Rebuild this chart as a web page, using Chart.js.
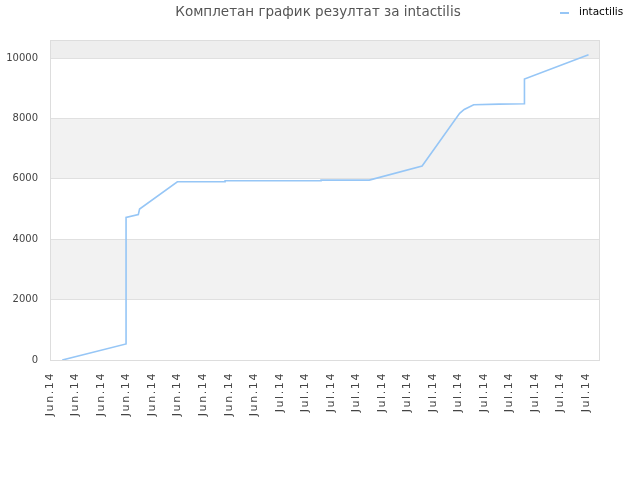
<!DOCTYPE html>
<html>
<head>
<meta charset="utf-8">
<script src="https://cdn.jsdelivr.net/npm/chart.js@4/dist/chart.umd.min.js"></script>
<style>
  body { margin: 0; background: #fff; }
  #chart { display: block; }
</style>
</head>
<body>
<canvas id="chart" width="640" height="480"></canvas>
<script>
// Tick labels along the x axis (one per position 0..21)
const xLabels = [
    'Jun.14', 'Jun.14', 'Jun.14', 'Jun.14', 'Jun.14', 'Jun.14', 'Jun.14', 'Jun.14', 'Jun.14',
    'Jul.14', 'Jul.14', 'Jul.14', 'Jul.14', 'Jul.14', 'Jul.14', 'Jul.14', 'Jul.14',
    'Jul.14', 'Jul.14', 'Jul.14', 'Jul.14', 'Jul.14'
];
const yTicks = [0, 2000, 4000, 6000, 8000, 10000];

// Series, x in tick units, y = result
const resultX = [0.48, 2.98, 2.98, 3.46, 3.51, 4.99, 6.86, 6.86, 10.62, 10.62, 12.51, 14.58, 16.05, 16.23, 16.6, 17.6, 18.59, 18.59, 21.1];
const resultY = [0, 530, 4725, 4820, 5000, 5905, 5905, 5940, 5940, 5960, 5960, 6424, 8170, 8300, 8454, 8477, 8487, 9305, 10109];

const seriesName = 'intactilis';
const chartTitle = 'Комплетан график резултат за intactilis';

const FONT = 'DejaVu Sans';
const LINE_COLOR = '#96c6f6';

// Alternating background bands, plot frame, title and legend
const decorPlugin = {
    id: 'decor',
    afterLayout(chart) {
        // the x labels in the original are a bit spaced out
        const xs = chart.scales.x;
        if (!xs._spaced) {
            const orig = xs.drawLabels;
            xs.drawLabels = function (area) {
                const ctx = this.ctx;
                ctx.save();
                ctx.letterSpacing = '1.6px';
                orig.call(this, area);
                ctx.restore();
            };
            xs._spaced = true;
        }
    },
    beforeDraw(chart) {
        const { ctx, chartArea: a, scales: { y } } = chart;
        const edges = yTicks.concat([y.max]);
        ctx.save();
        for (let i = 1; i < edges.length - 1; i += 2) {
            const top = y.getPixelForValue(edges[i + 1]);
            const bottom = y.getPixelForValue(edges[i]);
            ctx.fillStyle = i === edges.length - 2 ? '#eeeeee' : '#f2f2f2';
            ctx.fillRect(a.left, top, a.right - a.left, bottom - top);
        }
        ctx.restore();
    },
    afterDraw(chart) {
        const { ctx, chartArea: a } = chart;
        ctx.save();
        ctx.strokeStyle = '#dddddd';
        ctx.lineWidth = 1;
        ctx.strokeRect(a.left + 0.5, a.top + 0.5, a.right - a.left - 1, a.bottom - a.top);

        ctx.fillStyle = '#555555';
        ctx.font = '13.5px ' + FONT;
        ctx.textAlign = 'center';
        ctx.textBaseline = 'middle';
        ctx.fillText(chartTitle, 318, 12);

        // legend
        ctx.fillStyle = LINE_COLOR;
        ctx.fillRect(560, 12, 9, 2);
        ctx.fillStyle = '#000';
        ctx.font = '10.5px ' + FONT;
        ctx.textAlign = 'left';
        ctx.fillText(seriesName, 579, 12);
        ctx.restore();
    }
};

const points = resultX.map((x, i) => ({ x: x, y: resultY[i] }));

new Chart(document.getElementById('chart'), {
    type: 'line',
    data: {
        datasets: [{
            label: seriesName,
            data: points,
            borderColor: LINE_COLOR,
            borderWidth: 1.6,
            pointRadius: 0,
            tension: 0
        }]
    },
    plugins: [decorPlugin],
    options: {
        responsive: false,
        devicePixelRatio: 1,
        animation: false,
        layout: { padding: { left: 0, right: 40, top: 40, bottom: 0 } },
        plugins: {
            legend: { display: false },
            tooltip: { enabled: false }
        },
        scales: {
            x: {
                type: 'linear',
                min: 0,
                max: 21.55,
                grid: { display: false, drawTicks: false },
                border: { display: false },
                afterBuildTicks: (scale) => {
                    scale.ticks = xLabels.map((_, i) => ({ value: i }));
                },
                afterFit: (scale) => { scale.height = 120; },
                ticks: {
                    autoSkip: false,
                    minRotation: 90,
                    maxRotation: 90,
                    padding: 12,
                    color: '#444',
                    font: { family: FONT, size: 11 },
                    callback: (v) => xLabels[v]
                }
            },
            y: {
                min: 0,
                max: 10600,
                afterBuildTicks: (scale) => {
                    scale.ticks = yTicks.map(v => ({ value: v }));
                },
                afterFit: (scale) => { scale.width = 50; },
                grid: { color: '#e0e0e0', drawTicks: false },
                border: { display: false },
                ticks: {
                    padding: 12,
                    color: '#444',
                    font: { family: FONT, size: 10 },
                    callback: (v) => String(v)
                }
            }
        }
    }
});
</script>
</body>
</html>
